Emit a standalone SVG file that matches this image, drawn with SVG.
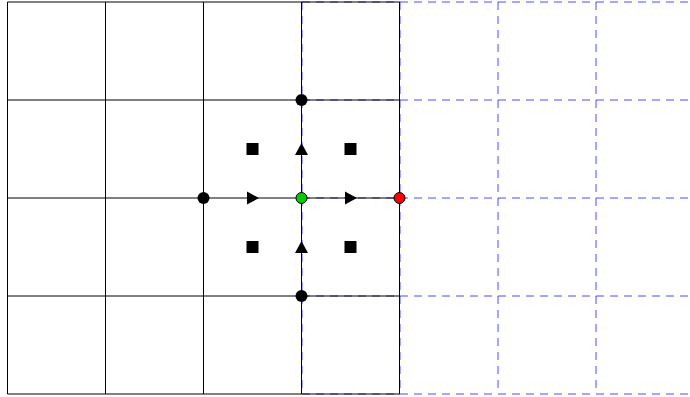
<svg xmlns="http://www.w3.org/2000/svg" width="690" height="397" viewBox="0 0 690 397">
<style>
.g{stroke:#000;stroke-width:1;fill:none}
.d{stroke:#0000ff;stroke-opacity:0.7;stroke-width:1;stroke-dasharray:8,6;fill:none}
.pt{fill:#000}
.c{stroke:#000;stroke-width:1}
</style>
<rect width="690" height="397" fill="#fff"/>
<g id="connectors">
<g id="grid-dashed" class="d">
<path d="M302 2V394M400 2V394M498 2V394M596 2V394"/>
<path d="M302 2H690M302 100H690M302 198H690M302 296H690M302 394H690"/>
</g>
<g id="grid-solid" class="g">
<path d="M7.5 2V394M105.5 2V394M203.5 2V394M301.5 2V394M399.5 2V394"/>
<path d="M7.5 2H400M7.5 100H400M7.5 198H400M7.5 296H400M7.5 394H400"/>
</g>
</g>
<g id="n-top"><circle class="pt" cx="301.5" cy="100" r="6"/></g>
<g id="n-left"><circle class="pt" cx="203.5" cy="198" r="6"/></g>
<g id="n-bottom"><circle class="pt" cx="301.5" cy="296" r="6"/></g>
<g id="n-center"><circle class="c" fill="#00cc00" cx="301.5" cy="198" r="5.5"/></g>
<g id="n-right"><circle class="c" fill="#ff0000" cx="399.5" cy="198" r="5.5"/></g>
<g id="sq1"><rect class="pt" x="246.5" y="143" width="12" height="12"/></g>
<g id="sq2"><rect class="pt" x="344.5" y="143" width="12" height="12"/></g>
<g id="sq3"><rect class="pt" x="246.5" y="241" width="12" height="12"/></g>
<g id="sq4"><rect class="pt" x="344.5" y="241" width="12" height="12"/></g>
<g id="tri-up1"><polygon class="pt" points="301.5,143 308,155 295,155"/></g>
<g id="tri-up2"><polygon class="pt" points="301.5,241 308,253 295,253"/></g>
<g id="tri-r1"><polygon class="pt" points="259,198 247,191.5 247,204.5"/></g>
<g id="tri-r2"><polygon class="pt" points="357,198 345,191.5 345,204.5"/></g>
</svg>
